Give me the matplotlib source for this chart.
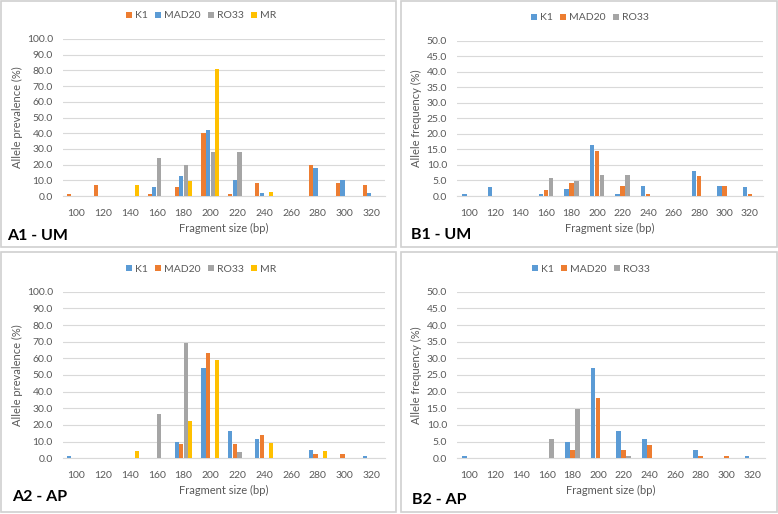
import numpy as np
import matplotlib.pyplot as plt
from matplotlib.patches import Rectangle

plt.rcParams['font.family'] = ['Lato', 'DejaVu Sans']

######### Data ############
sizes = ['100', '120', '140', '160', '180', '200', '220', '240', '260', '280', '300', '320']

# A1 - UM, allele prevalence (%)
a1_k1    = [1.2, 7.0, 0, 1.2, 6.0, 40.0, 1.2, 8.4, 0, 20.0, 8.4, 7.0]
a1_mad20 = [0, 0, 0, 5.8, 12.6, 42.0, 10.0, 1.6, 0, 18.0, 10.0, 1.6]
a1_ro33  = [0, 0, 0, 24.0, 20.0, 27.9, 27.9, 0, 0, 0, 0, 0]
a1_mr    = [0, 0, 7.0, 0, 9.3, 81.0, 0, 2.5, 0, 0, 0, 0]

# B1 - UM, allele frequency (%)
b1_k1    = [0.6, 2.8, 0, 0.6, 2.4, 16.4, 0.6, 3.3, 0, 8.2, 3.3, 2.8]
b1_mad20 = [0, 0, 0, 2.0, 4.3, 14.4, 3.3, 0.6, 0, 6.3, 3.3, 0.6]
b1_ro33  = [0, 0, 0, 5.7, 4.9, 6.7, 6.7, 0, 0, 0, 0, 0]

# A2 - AP, allele prevalence (%)
a2_k1    = [1.6, 0, 0, 0, 9.6, 54.0, 16.2, 11.3, 0, 4.8, 0, 1.6]
a2_mad20 = [0, 0, 0, 0, 8.4, 63.0, 8.4, 14.2, 0, 2.5, 2.5, 0]
a2_ro33  = [0, 0, 0, 26.8, 69.3, 0, 3.5, 0, 0, 0, 0, 0]
a2_mr    = [0, 0, 4.2, 0, 22.6, 59.2, 0, 9.0, 0, 4.2, 0, 0]

# B2 - AP, allele frequency (%)
b2_k1    = [0.8, 0, 0, 0, 4.9, 27.0, 8.2, 5.8, 0, 2.5, 0, 0.8]
b2_mad20 = [0, 0, 0, 0, 2.5, 18.0, 2.5, 4.1, 0, 0.8, 0.8, 0]
b2_ro33  = [0, 0, 0, 5.8, 14.7, 0, 0.8, 0, 0, 0, 0, 0]

######### Style ############
BLUE, ORANGE, GRAY, YELLOW = '#5B9BD5', '#ED7D31', '#A5A5A5', '#FFC000'
TXT = '#595959'
GRID = '#D9D9D9'

W, H = 778, 514
fig = plt.figure(figsize=(W / 100, H / 100), dpi=100)


def px_axes(l, t, r, b):
    return fig.add_axes([l / W, 1 - b / H, (r - l) / W, (b - t) / H])


def box(l, t, r, b):
    fig.patches.append(Rectangle((l / W, 1 - b / H), (r - l) / W, (b - t) / H,
                                 transform=fig.transFigure, fill=False,
                                 edgecolor='#D0D0D0', linewidth=1.2))


def panel(rect, series, names, colors, ymax, ystep, ylabel, tag, tag_xy, leg_xy, group):
    ax = px_axes(*rect)
    x = np.arange(len(sizes))
    n = len(series)
    w = group / n
    for i, (vals, nm, c) in enumerate(zip(series, names, colors)):
        ax.bar(x - group / 2 + w * (i + 0.5), vals, width=w * 0.92, color=c, label=nm, zorder=3)
    ax.set_xlim(-0.5, len(sizes) - 0.5)
    ax.set_ylim(0, ymax)
    ticks = np.arange(0, ymax + 0.01, ystep)
    ax.set_yticks(ticks)
    ax.set_yticklabels([f'{v:.1f}' for v in ticks])
    ax.set_xticks(x)
    ax.set_xticklabels(sizes)
    ax.tick_params(length=0, labelsize=7.5, colors=TXT, pad=7)
    ax.tick_params(axis='x', pad=9)
    ax.grid(axis='y', color=GRID, linewidth=0.8, zorder=0)
    for s in ['top', 'right', 'left']:
        ax.spines[s].set_visible(False)
    ax.spines['bottom'].set_color(GRID)
    ax.set_ylabel(ylabel, fontsize=8, color=TXT, labelpad=3)
    ax.set_xlabel('Fragment size (bp)', fontsize=8, color=TXT, labelpad=4)
    ax.legend(loc='center', bbox_to_anchor=(leg_xy[0] / W, 1 - leg_xy[1] / H),
              bbox_transform=fig.transFigure, ncol=n, frameon=False, fontsize=7.5,
              handlelength=0.55, handleheight=0.55, handletextpad=0.3,
              columnspacing=0.7, labelcolor=TXT)
    fig.text(tag_xy[0] / W, 1 - tag_xy[1] / H, tag, fontsize=11.5, fontweight='bold',
             color='black', va='center', ha='left')
    return ax


box(1, 1, 396, 247)
box(401, 1, 777, 247)
box(1, 252, 396, 512)
box(401, 252, 777, 512)

panel((62.6, 39, 385, 196), [a1_k1, a1_mad20, a1_ro33, a1_mr], ['K1', 'MAD20', 'RO33', 'MR'],
      [ORANGE, BLUE, GRAY, YELLOW], 100, 10, 'Allele prevalence (%)', 'A1 - UM', (7, 236),
      (201, 16), 0.68)
panel((456.7, 40.7, 762.7, 196), [b1_k1, b1_mad20, b1_ro33], ['K1', 'MAD20', 'RO33'],
      [BLUE, ORANGE, GRAY], 50, 5, 'Allele frequency (%)', 'B1 - UM', (411, 235),
      (590, 18), 0.6)
panel((62.6, 291.7, 385, 458.3), [a2_k1, a2_mad20, a2_ro33, a2_mr], ['K1', 'MAD20', 'RO33', 'MR'],
      [BLUE, ORANGE, GRAY, YELLOW], 100, 10, 'Allele prevalence (%)', 'A2 - AP', (12, 497),
      (201, 269), 0.68)
panel((456.7, 291.7, 765, 458.3), [b2_k1, b2_mad20, b2_ro33], ['K1', 'MAD20', 'RO33'],
      [BLUE, ORANGE, GRAY], 50, 5, 'Allele frequency (%)', 'B2 - AP', (412, 500),
      (591, 269), 0.6)

fig.savefig('out.png', dpi=100, facecolor='white')
